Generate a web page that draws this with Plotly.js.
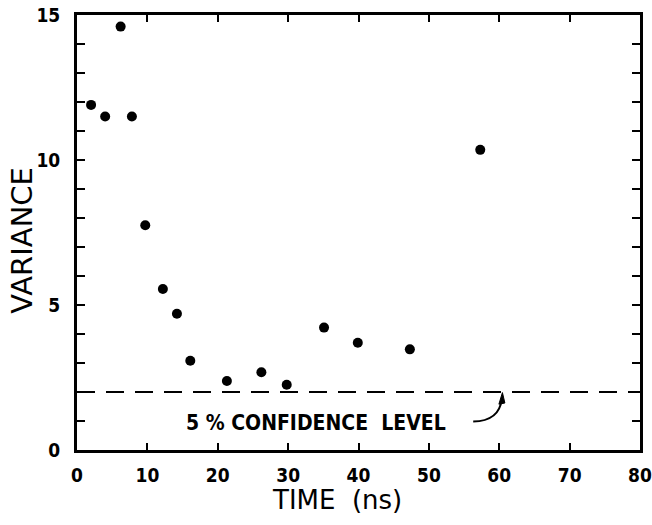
<!DOCTYPE html>
<html>
<head>
<meta charset="utf-8">
<script src="https://cdn.plot.ly/plotly-3.0.1.min.js"></script>
<style>html,body{margin:0;padding:0;background:#fff;}#chart{width:652px;height:525px;}</style>
</head>
<body>
<div id="chart"></div>
<script>
// Data
const timeNs = [2, 4, 6.2, 7.8, 9.7, 12.2, 14.2, 16.1, 21.3, 26.2, 29.8, 35.1, 39.9, 47.3, 57.3];
const variance = [11.9, 11.5, 14.6, 11.5, 7.75, 5.55, 4.7, 3.08, 2.38, 2.68, 2.25, 4.22, 3.7, 3.47, 10.35];
const confidenceLevel = 2;
const confidenceLabel = "5 % CONFIDENCE\u00a0\u00a0LEVEL";
const xTitle = "TIME\u00a0\u00a0(ns)";
const yTitle = "VARIANCE";
const xTickVals = [0, 10, 20, 30, 40, 50, 60, 70, 80];
const yTickVals = [0, 5, 10, 15];

const tickFont = {family: "DejaVu Sans Condensed", size: 19, color: "#000", weight: 700};

const data = [{
  type: "scatter",
  mode: "markers",
  x: timeNs,
  y: variance,
  marker: {color: "#000", size: 10},
  showlegend: false,
  hoverinfo: "x+y"
}];

const layout = {
  width: 652,
  height: 525,
  margin: {l: 77, r: 12, t: 15, b: 75},
  paper_bgcolor: "#fff",
  plot_bgcolor: "#fff",
  showlegend: false,
  xaxis: {
    range: [0, 80],
    tickvals: xTickVals,
    ticks: "inside",
    ticklen: 7,
    tickwidth: 2,
    tickcolor: "#000",
    showline: true,
    linewidth: 3,
    linecolor: "#000",
    mirror: "ticks",
    showgrid: false,
    zeroline: false,
    tickfont: tickFont,
    ticklabelstandoff: 6,
    automargin: false
  },
  yaxis: {
    range: [0, 15],
    tickvals: yTickVals,
    ticks: "inside",
    ticklen: 8,
    tickwidth: 2,
    tickcolor: "#000",
    minor: {dtick: 1, ticks: "inside", ticklen: 8, tickwidth: 2, tickcolor: "#000", showgrid: false},
    showline: true,
    linewidth: 3,
    linecolor: "#000",
    mirror: "ticks",
    showgrid: false,
    zeroline: false,
    tickfont: tickFont,
    ticklabelstandoff: 10,
    automargin: false
  },
  shapes: [
    {type: "line", xref: "paper", x0: 0, x1: 1, yref: "y", y0: confidenceLevel, y1: confidenceLevel,
     line: {color: "#000", width: 2, dash: "18px,11px"}},
    {type: "path", xref: "x", yref: "y",
     path: "M 56.3,0.98 Q 60.0,1.0 60.35,1.75",
     line: {color: "#000", width: 2}},
    {type: "path", xref: "x", yref: "y",
     path: "M 60.45,1.98 L 59.95,1.58 L 60.8,1.62 Z",
     fillcolor: "#000", line: {color: "#000", width: 1}}
  ],
  annotations: [
    {text: confidenceLabel, xref: "x", yref: "y", x: 34.0, y: 0.93,
     showarrow: false, xanchor: "center", yanchor: "middle",
     font: {family: "DejaVu Sans Condensed", size: 21, color: "#000", weight: 700}},
    {text: xTitle, xref: "paper", yref: "paper", x: 0.462, y: -0.115,
     showarrow: false, xanchor: "center", yanchor: "middle",
     font: {family: "DejaVu Sans", size: 26, color: "#000"}},
    {text: yTitle, xref: "paper", yref: "paper", x: -0.098, y: 0.483, textangle: -90,
     showarrow: false, xanchor: "center", yanchor: "middle",
     font: {family: "DejaVu Sans", size: 29, color: "#000"}}
  ]
};

Plotly.newPlot("chart", data, layout, {displayModeBar: false, staticPlot: true});
</script>
</body>
</html>
